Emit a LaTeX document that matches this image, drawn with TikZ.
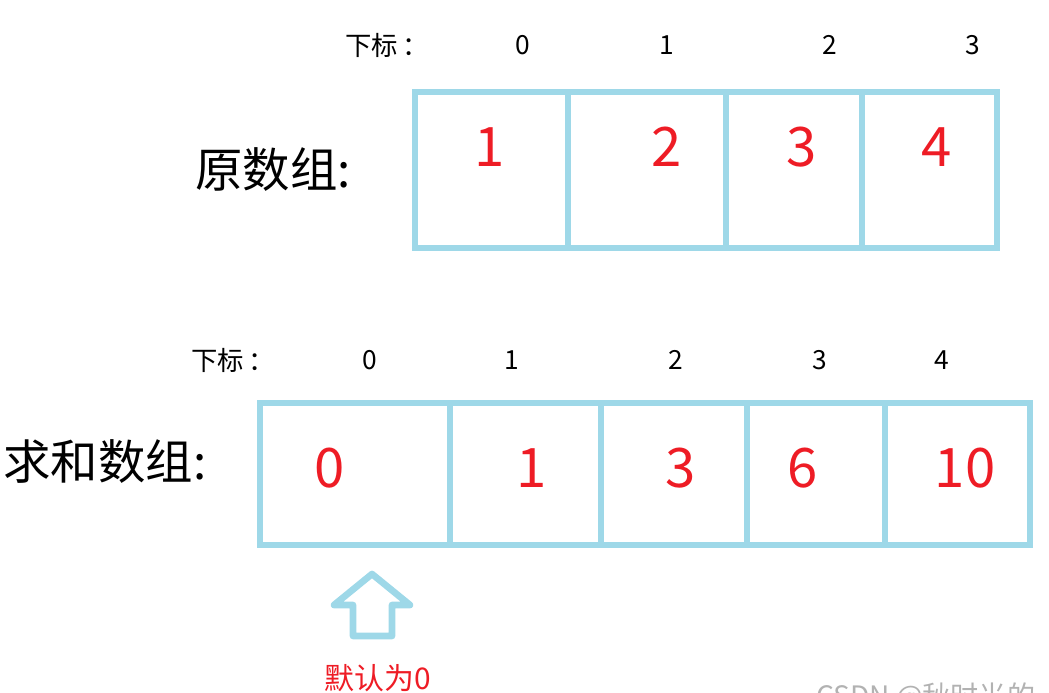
\documentclass[tikz,border=0pt]{standalone}
\usepackage{fontspec}
\setmainfont{Noto Sans CJK SC}
\usetikzlibrary{positioning}
\definecolor{boxblue}{HTML}{9ED8E8}
\definecolor{numred}{HTML}{EE1C25}

\begin{document}
\begin{tikzpicture}[
    x=0.02cm, y=-0.02cm,
    cell/.style={draw=boxblue, line width=3.8pt},
    idx/.style={font=\fontsize{15}{15}\selectfont, text=black},
    val/.style={font=\fontsize{31}{31}\selectfont, text=numred},
    title/.style={font=\fontsize{27}{27}\selectfont, text=black},
    note/.style={font=\fontsize{17}{17}\selectfont, text=numred}
]
    \useasboundingbox (0,0) rectangle (1049,693);

    % 原数组
    \node[idx] (lab1) at (387,45) {下标\,：};
    \foreach \x/\t [count=\i from 0] in {523/0, 667/1, 830/2, 973/3}
        \node[idx] (a\i) at (\x,45) {\t};
    \node[title] (orig) at (273,170) {原数组:};
    \draw[cell] (415,92) rectangle (997,248);
    \foreach \x in {568, 726, 862}
        \draw[cell] (\x,92) -- (\x,248);
    \foreach \x/\v [count=\i from 0] in {490/1, 667/2, 802/3, 937/4}
        \node[val] (v\i) at (\x,147) {\v};

    % 求和数组
    \node[idx] (lab2) at (233,360) {下标\,：};
    \foreach \x/\t [count=\i from 0] in {370/0, 512/1, 676/2, 820/3, 942/4}
        \node[idx] (b\i) at (\x,360) {\t};
    \node[title] (sum) at (105,462) {求和数组:};
    \draw[cell] (260,403) rectangle (1030,545);
    \foreach \x in {450, 601, 747, 885}
        \draw[cell] (\x,403) -- (\x,545);
    \foreach \x/\v [count=\i from 0] in {330/0, 532/1, 681/3, 803/6, 965/10}
        \node[val] (s\i) at (\x,468) {\v};

    % 默认为0
    \draw[cell, line join=round] (372,574) -- (410,605) -- (392,605) -- (392,636)
        -- (353,636) -- (353,605) -- (334,605) -- cycle;
    \node[note] (def) at (378,678) {默认为0};

    \node[anchor=base west, text=black!30, font=\fontsize{16}{16}\selectfont] (wm) at (810,706) {CSDN @秋时光的};
\end{tikzpicture}
\end{document}
